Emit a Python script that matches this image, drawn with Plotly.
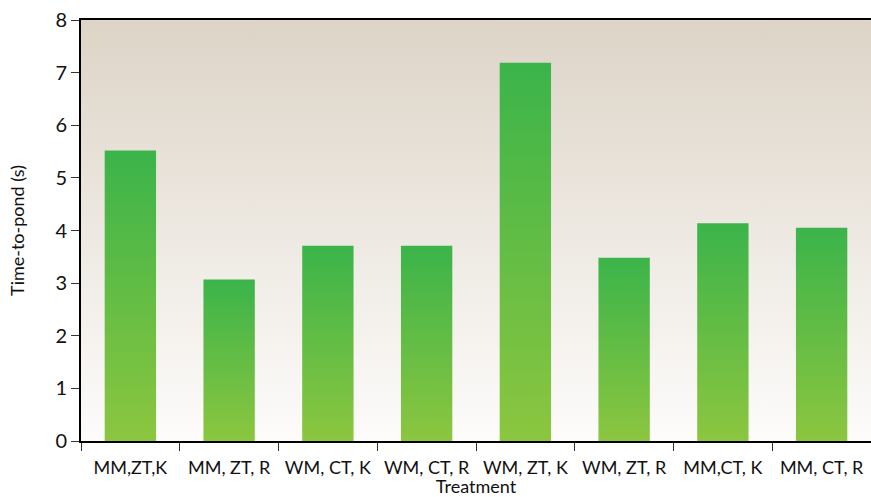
import plotly.graph_objects as go

categories = ["MM,ZT,K", "MM, ZT, R", "WM, CT, K", "WM, CT, R", "WM, ZT, K", "WM, ZT, R", "MM,CT, K", "MM, CT, R"]
values = [5.52, 3.07, 3.71, 3.71, 7.19, 3.48, 4.14, 4.05]
y_ticks = [0, 1, 2, 3, 4, 5, 6, 7, 8]

bar_width = 0.52
fig = go.Figure()

# plot-area background gradient
fig.add_trace(go.Scatter(
    x=[-0.5, len(categories) - 0.5, len(categories) - 0.5, -0.5, -0.5],
    y=[0, 0, 8, 8, 0], mode="none", fill="toself",
    fillgradient=dict(type="vertical", colorscale=[[0, "#fdfcfb"], [1, "#ddd4c7"]]),
    hoverinfo="skip", showlegend=False))

for i, (c, v) in enumerate(zip(categories, values)):
    x0, x1 = i - bar_width / 2, i + bar_width / 2
    fig.add_trace(go.Scatter(
        x=[x0, x1, x1, x0, x0], y=[0, 0, v, v, 0], mode="none", fill="toself",
        fillgradient=dict(type="vertical", colorscale=[[0, "#8cc63f"], [1, "#3bb44a"]]),
        name=c, showlegend=False, hoverinfo="text", text=f"{c}: {v}"))

fig.update_layout(
    width=871, height=497,
    margin=dict(l=81, r=0, t=20, b=56),
    paper_bgcolor="white", plot_bgcolor="white",
    font=dict(family="Lato", color="#111"),
    showlegend=False,
)
fig.update_xaxes(
    range=[-0.5, len(categories) - 0.5], automargin=False,
    tickvals=list(range(len(categories))), ticktext=categories,
    ticks="outside", ticklen=9, tickcolor="rgba(0,0,0,0)",
    showgrid=False, zeroline=False,
    showline=True, linecolor="black", linewidth=2, mirror=True,
    tickfont=dict(size=18, family="Lato"),
    minor=dict(tick0=-0.5, dtick=1, ticks="outside", ticklen=8, tickcolor="#333", tickwidth=1, showgrid=False),
    title=dict(text="Treatment", font=dict(size=18, family="Lato"), standoff=7),
)
fig.update_yaxes(
    range=[0, 8], tickvals=y_ticks, ticks="outside", ticklen=8, tickcolor="#333", tickwidth=1,
    automargin=False,
    showgrid=False, zeroline=False, showline=True, linecolor="black", linewidth=2,
    tickfont=dict(size=20, family="Lato"),
    title=dict(text="Time-to-pond (s)", font=dict(size=18, family="Lato"), standoff=26),
)
fig.write_html(
    "out.html",
    config={"displayModeBar": False},
    post_script="document.body.style.margin='0';document.body.style.overflow='hidden';",
)
